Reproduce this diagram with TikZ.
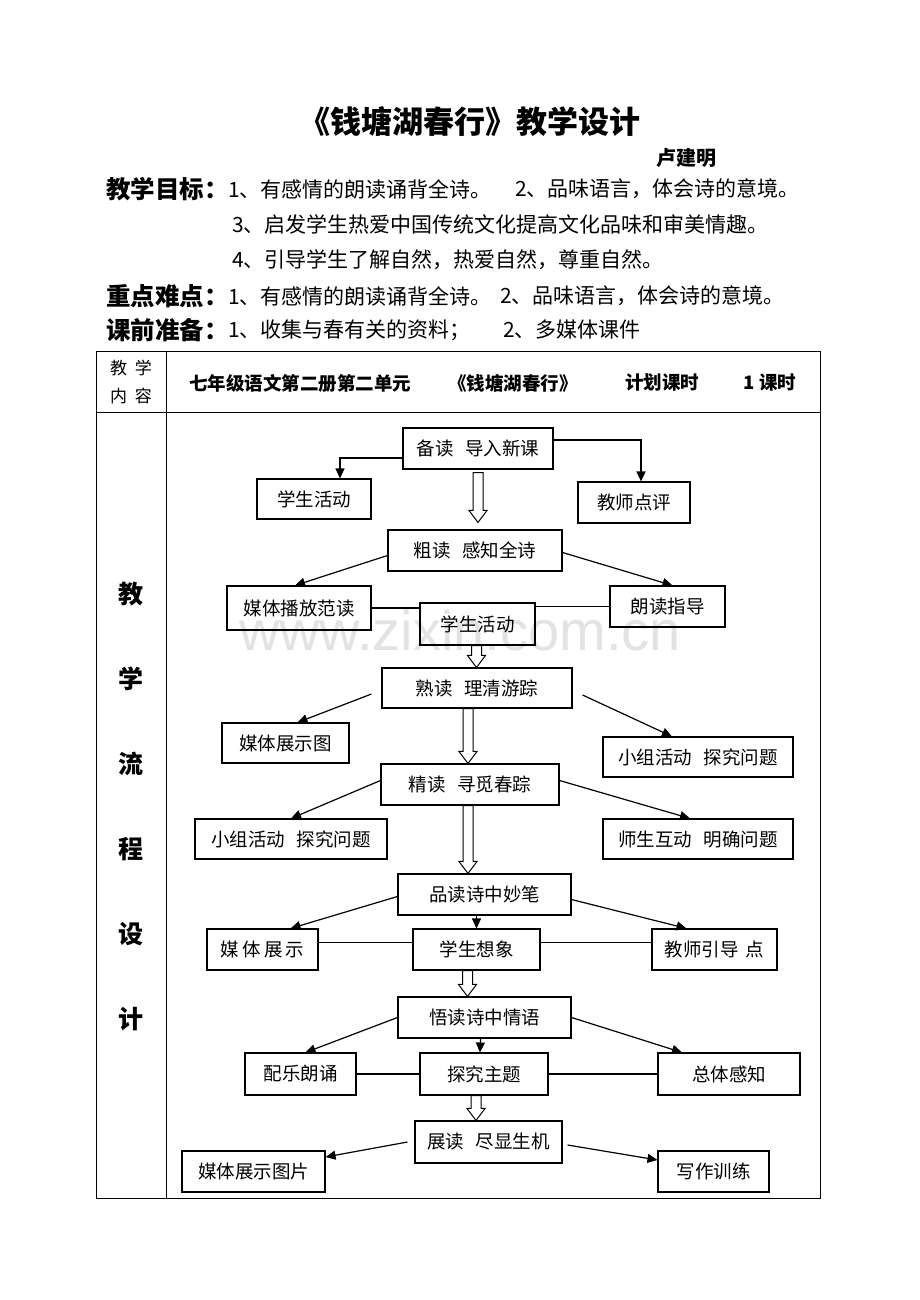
\documentclass[tikz,border=0pt]{standalone}
\usepackage{fontspec}
\setmainfont{Noto Sans CJK SC}
\newfontfamily\wmfont{Liberation Sans}
\usetikzlibrary{arrows.meta,calc}
\newcommand\myfs[1]{\fontsize{#1}{#1}\selectfont}
\newcommand\gapsp{\hspace{0.6em}}
\begin{document}
\begin{tikzpicture}[x=1pt,y=-1pt,
  box/.style={draw, line width=1.1pt, inner sep=0pt, font=\myfs{18.5}},
  sz/.style 2 args={minimum width=#1, minimum height=#2},
  arr/.style={line width=1.2pt, -{Triangle[length=10pt,width=9pt]}},
  ln/.style={line width=1.1pt},
  tline/.style={line width=0.9pt},
  hollow/.style={draw, line width=1pt, fill=white,
    to path={let \p1=(\tikztostart), \p2=(\tikztotarget) in
      (\x1-5pt,\y1) -- (\x1-5pt,\y2+12pt) -- (\x1-9pt,\y2+12pt) -- (\x1,\y2)
      -- (\x1+9pt,\y2+12pt) -- (\x1+5pt,\y2+12pt) -- (\x1+5pt,\y1) -- cycle}},
  lbl/.style={anchor=west, inner sep=0pt, font=\bfseries\myfs{24.5}},
  txt/.style={anchor=west, inner sep=0pt, font=\myfs{21}},
  hdr/.style={inner sep=0pt, font=\bfseries\myfs{18.5}},
  side/.style={inner sep=0pt, font=\bfseries\myfs{25}}
]
\useasboundingbox[fill=white] (0,0) rectangle (920,1300);

% watermark
\node[text=gray!22, inner sep=0pt, font=\wmfont\myfs{56}] (wm) at (460,630) {www.zixin.com.cn};

% heading
\node[inner sep=0pt, font=\bfseries\myfs{31}] (title) at (470,122) {《钱塘湖春行》教学设计};
\node[inner sep=0pt, font=\bfseries\myfs{20}] (author) at (686,158) {卢建明};

\node[lbl] (l1) at (106,189) {教学目标：};
\node[txt] (t1a) at (228,189) {1、有感情的朗读诵背全诗。};
\node[txt] (t1b) at (515,189) {2、品味语言，体会诗的意境。};
\node[txt] (t2) at (232,224) {3、启发学生热爱中国传统文化提高文化品味和审美情趣。};
\node[txt] (t3) at (232,260) {4、引导学生了解自然，热爱自然，尊重自然。};
\node[lbl] (l4) at (106,296) {重点难点：};
\node[txt] (t4a) at (228,296) {1、有感情的朗读诵背全诗。};
\node[txt] (t4b) at (500,296) {2、品味语言，体会诗的意境。};
\node[lbl] (l5) at (106,330) {课前准备：};
\node[txt] (t5a) at (228,330) {1、收集与春有关的资料；};
\node[txt] (t5b) at (503,330) {2、多媒体课件};

% table
\draw[tline] (96,351) rectangle (820,1198);
\draw[tline] (96,412) -- (820,412);
\draw[tline] (166,351) -- (166,1198);
\node[inner sep=0pt, font=\myfs{17}] (h1) at (131,368) {教\ \ 学};
\node[inner sep=0pt, font=\myfs{17}] (h2) at (131,396) {内\ \ 容};
\node[hdr] (h3) at (300,383) {七年级语文第二册第二单元};
\node[hdr] (h4) at (513,383) {《钱塘湖春行》};
\node[hdr] (h5) at (662,383) {计划课时};
\node[hdr] (h6) at (770,383) {1 课时};

\node[side] (s1) at (131,594) {教};
\node[side] (s2) at (131,679) {学};
\node[side] (s3) at (131,764) {流};
\node[side] (s4) at (131,849) {程};
\node[side] (s5) at (131,934) {设};
\node[side] (s6) at (131,1019) {计};

% flow boxes
\node[box, sz={150}{41}] (n1) at (478,448.5) {备读\gapsp 导入新课};
\node[box, sz={114}{40}] (n2) at (314,499) {学生活动};
\node[box, sz={112}{41}] (n3) at (634,502.5) {教师点评};
\node[box, sz={174}{41}] (n4) at (475,550.5) {粗读\gapsp 感知全诗};
\node[box, sz={144}{44}] (n5) at (299,608) {媒体播放范读};
\node[box, sz={115}{41}] (n6) at (667.5,606.5) {朗读指导};
\node[box, sz={115}{42}] (n7) at (477.5,624) {学生活动};
\node[box, sz={190}{40}] (n8) at (477,688) {熟读\gapsp 理清游踪};
\node[box, sz={127}{40}] (n9) at (285.5,743) {媒体展示图};
\node[box, sz={190}{40}] (n10) at (698,757) {小组活动\gapsp 探究问题};
\node[box, sz={178}{41}] (n11) at (470,784.5) {精读\gapsp 寻觅春踪};
\node[box, sz={192}{40}] (n12) at (291,839) {小组活动\gapsp 探究问题};
\node[box, sz={190}{40}] (n13) at (698,839) {师生互动\gapsp 明确问题};
\node[box, sz={173}{41}] (n14) at (484.5,894.5) {品读诗中妙笔};
\node[box, sz={111}{41}] (n15) at (262.5,949.5) {媒\hspace{0.18em}体\hspace{0.18em}展\hspace{0.18em}示};
\node[box, sz={127}{41}] (n16) at (476.5,949.5) {学生想象};
\node[box, sz={125}{41}] (n17) at (714.5,949.5) {教师引导\hspace{0.4em}点};
\node[box, sz={173}{41}] (n18) at (484.5,1017.5) {悟读诗中情语};
\node[box, sz={111}{42}] (n19) at (300.5,1074) {配乐朗诵};
\node[box, sz={128}{42}] (n20) at (484,1074) {探究主题};
\node[box, sz={142}{42}] (n21) at (729,1074) {总体感知};
\node[box, sz={147}{42}] (n22) at (488.5,1142) {展读\gapsp 尽显生机};
\node[box, sz={143}{41}] (n23) at (253.5,1171.5) {媒体展示图片};
\node[box, sz={111}{41}] (n24) at (713.5,1171.5) {写作训练};

% connectors
\draw[arr] ([yshift=-9.5pt]n1.west) -| ([xshift=26pt]n2.north);
\draw[arr] ([yshift=8.5pt]n1.east) -| ([xshift=7pt]n3.north);
\draw[hollow] ([yshift=-3pt]n1.south) to ([yshift=7pt]n4.north);

\draw[arr] ([yshift=-5pt]n4.west) -- ([xshift=-4pt]n5.north);
\draw[arr] ([yshift=-2pt]n4.east) -- ([xshift=5pt]n6.north);
\draw[ln] (n5.east) -- (n5.east -| n7.west);
\draw[ln] (n7.east |- n6.west) -- (n6.west);
\draw[hollow] ([xshift=-1pt]n7.south) to (n8.north);

\draw[arr] ([xshift=-10pt,yshift=-6pt]n8.west) -- ([xshift=12pt]n9.north);
\draw[arr] ([xshift=10pt,yshift=-7pt]n8.east) -- ([xshift=-26pt]n10.north);
\draw[hollow] ([xshift=-9pt]n8.south) to (n11.north);

\draw[arr] ([yshift=4pt]n11.west) -- (n12.north);
\draw[arr] ([yshift=4pt]n11.east) -- ([xshift=-8pt]n13.north);
\draw[hollow] ([xshift=-2pt]n11.south) to (n14.north);

\draw[arr] ([yshift=-2pt]n14.west) -- ([xshift=28pt]n15.north);
\draw[arr] ([yshift=-5pt]n14.east) -- ([xshift=-28pt]n17.north);
\draw[arr] ([xshift=-8pt]n14.south) -- (n16.north);
\draw[ln] ([yshift=7pt]n15.east) -- ([yshift=7pt]n16.west);
\draw[ln] ([yshift=7pt]n16.east) -- ([yshift=7pt]n17.west);
\draw[hollow] ([xshift=-9pt]n16.south) to (n18.north);

\draw[arr] (n18.west) -- ([xshift=5pt]n19.north);
\draw[arr] (n18.east) -- ([xshift=-47pt]n21.north);
\draw[arr] ([xshift=-4pt]n18.south) -- ([xshift=-4pt]n20.north);
\draw[ln] (n19.east) -- (n20.west);
\draw[ln] (n20.east) -- (n21.west);
\draw[hollow] ([xshift=-8pt]n20.south) to (n22.north);

\draw[arr] ([xshift=-7pt]n22.west) -- ([yshift=14.5pt]n23.east);
\draw[arr] ([xshift=5pt,yshift=-3pt]n22.east) -- ([yshift=11.5pt]n24.west);
\end{tikzpicture}
\end{document}
